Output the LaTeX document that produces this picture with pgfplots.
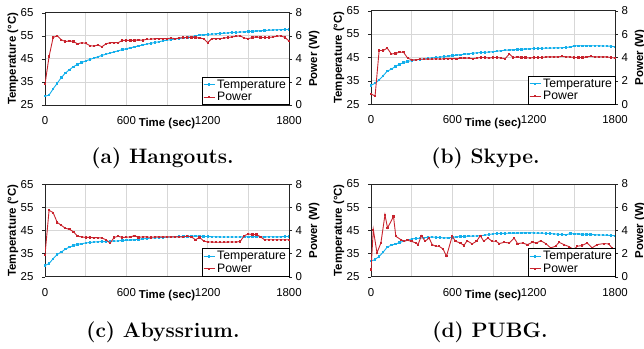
\documentclass[border=0pt]{standalone}
\usepackage{fontspec}
\usepackage{pgfplots}
\pgfplotsset{compat=1.18}
\newfontfamily\arial{Liberation Sans}
\definecolor{tcol}{RGB}{20,175,235}
\definecolor{pcol}{RGB}{200,35,45}
\definecolor{gridc}{RGB}{215,215,215}
\pgfplotsset{
  base/.style={scale only axis, width=244bp, xmin=0, xmax=1800, anchor=south west,
    /pgf/number format/assume math mode=true,
    tick label style={font=\arial\fontsize{11.5}{12}\selectfont},
    label style={font=\arial\bfseries\fontsize{11.5}{12}\selectfont},
    major tick length=3bp, tick align=outside},
  leftax/.style={base, ymin=25, ymax=65, ytick={25,35,...,65},
    xtick={0,300,...,1800}, xticklabels={0,,600,,1200,,1800},
    grid=major, grid style={gridc, line width=0.8pt},
    axis line style={black!85, line width=0.7pt},
    ytick pos=left, xtick pos=bottom, x tick style={draw=none},
    y tick style={black!85},
    xticklabel style={yshift=-5bp},
    yticklabel style={xshift=-5bp},
    xlabel={Time (sec)}, ylabel={Temperature (°C)},
    xlabel style={at={(axis description cs:0.5,-0.205)}, anchor=center},
    ylabel style={at={(axis description cs:-0.132,0.5)}, anchor=center}},
  rightax/.style={base, ymin=0, ymax=8, ytick={0,2,...,8}, axis x line=none, axis y line*=right,
    axis line style={black!85, line width=0.7pt}, y tick style={black!85},
    ylabel={Power (W)},
    ylabel style={at={(axis description cs:1.103,0.5)}, anchor=center},
    legend style={at={(1,0)}, anchor=south east, draw=black, line width=0.5pt, fill=white,
      font=\arial\fontsize{12.3}{12.5}\selectfont, inner sep=0.8pt, row sep=-1.5pt,
      legend cell align=left},
    legend image code/.code={\draw[#1] (0bp,0bp) -- (11bp,0bp); \draw[#1, mark repeat=2, mark phase=2] plot coordinates {(0bp,0bp)(5.5bp,0bp)(11bp,0bp)};}},
  tser/.style={tcol, line width=0.9pt, mark=square*, mark size=0.7pt, mark options={tcol}},
  pser/.style={pcol, line width=0.9pt, mark=square*, mark size=0.6pt, mark options={pcol}},
}
\newcommand{\subcap}[1]{{\bfseries\fontsize{21}{24}\selectfont #1}}
\begin{document}
\begin{tikzpicture}[x=1bp,y=1bp]
\useasboundingbox (0bp,0bp) rectangle (644bp,349bp);
% (a)
\begin{axis}[leftax, at={(45bp,244bp)}, height=92.3bp]
\addplot[tser] coordinates {(0,28.8)(30,29.3)(60,32)(90,34.4)(120,36.9)(150,38.8)(180,40.3)(210,41.6)(240,42.6)(270,43.4)(300,44.1)(330,44.7)(360,45.3)(390,45.9)(420,46.5)(450,47.0)(480,47.5)(510,48.0)(540,48.5)(570,49.0)(600,49.4)(630,49.8)(660,50.2)(690,50.6)(720,51.0)(750,51.4)(780,51.7)(810,52.1)(840,52.4)(870,52.8)(900,53.1)(930,53.3)(960,53.6)(990,53.8)(1020,54.1)(1050,54.3)(1080,54.6)(1110,54.8)(1140,55.3)(1170,55.45)(1200,55.6)(1230,55.7)(1260,55.85)(1290,56.0)(1320,56.1)(1350,56.25)(1380,56.4)(1410,56.5)(1440,56.6)(1470,56.7)(1500,56.8)(1530,56.95)(1560,57.1)(1590,57.2)(1620,57.3)(1650,57.4)(1680,57.5)(1710,57.6)(1740,57.65)(1770,57.7)(1800,57.7)};
\end{axis}
\begin{axis}[rightax, at={(45bp,244bp)}, height=92.3bp]
\addlegendimage{tser}\addlegendentry{Temperature}
\addplot[pser] coordinates {(0,1.8)(30,4.2)(60,5.85)(90,6.0)(120,5.65)(150,5.5)(180,5.55)(210,5.5)(240,5.3)(270,5.4)(300,5.35)(330,5.15)(360,5.1)(390,5.2)(420,5.05)(450,5.3)(480,5.4)(510,5.4)(540,5.4)(570,5.6)(600,5.6)(630,5.6)(660,5.6)(690,5.65)(720,5.6)(750,5.7)(780,5.7)(810,5.75)(840,5.75)(870,5.75)(900,5.75)(930,5.8)(960,5.75)(990,5.8)(1020,5.85)(1050,5.85)(1080,5.85)(1110,5.85)(1140,5.8)(1170,5.75)(1200,5.4)(1230,5.75)(1260,5.75)(1290,5.75)(1320,5.8)(1350,5.85)(1380,5.9)(1410,5.95)(1440,6.0)(1470,5.8)(1500,5.75)(1530,5.85)(1560,5.9)(1590,5.85)(1620,5.85)(1650,5.85)(1680,5.9)(1710,5.95)(1740,6.0)(1770,5.85)(1800,5.55)};
\addlegendentry{Power}
\end{axis}
% (b)
\begin{axis}[leftax, at={(371bp,244.7bp)}, height=93.6bp]
\addplot[tser] coordinates {(0,33.1)(30,34)(60,35.4)(90,37.2)(120,39.2)(150,40)(180,41.2)(210,42.1)(240,42.8)(270,43.3)(300,43.7)(330,44)(360,44.2)(390,44.4)(420,44.6)(450,44.8)(480,45)(510,45.2)(540,45.4)(570,45.6)(600,45.8)(630,46)(660,46.2)(690,46.4)(720,46.6)(750,46.8)(780,47)(810,47.1)(840,47.2)(870,47.3)(900,47.5)(930,47.7)(960,47.9)(990,48.1)(1020,48.2)(1050,48.3)(1080,48.4)(1110,48.5)(1140,48.6)(1170,48.7)(1200,48.8)(1230,48.9)(1260,48.9)(1290,49.0)(1320,49.0)(1350,49.1)(1380,49.1)(1410,49.2)(1440,49.3)(1470,49.5)(1500,50.0)(1530,50.0)(1560,50.0)(1590,50.0)(1620,50.0)(1650,50.0)(1680,50.0)(1710,49.9)(1740,49.9)(1770,49.8)(1800,49.6)};
\end{axis}
\begin{axis}[rightax, at={(371bp,244.7bp)}, height=93.6bp]
\addlegendimage{tser}\addlegendentry{Temperature}
\addplot[pser] coordinates {(0,0.9)(30,0.7)(60,4.6)(90,4.6)(120,4.8)(150,4.3)(180,4.35)(210,4.45)(240,4.45)(270,3.95)(300,3.8)(330,3.8)(360,3.85)(390,3.85)(420,3.85)(450,3.85)(480,3.9)(510,3.85)(540,3.9)(570,3.9)(600,3.9)(630,3.9)(660,3.95)(690,3.95)(720,3.95)(750,3.9)(780,3.95)(810,4.0)(840,4.0)(870,3.95)(900,4.0)(930,4.0)(960,3.95)(990,3.9)(1020,4.3)(1050,4.0)(1080,4.05)(1110,4.0)(1140,4.0)(1170,3.95)(1200,4.0)(1230,4.0)(1260,4.0)(1290,4.05)(1320,4.05)(1350,4.05)(1380,4.05)(1410,4.1)(1440,4.05)(1470,4.05)(1500,4.0)(1530,4.0)(1560,4.0)(1590,4.05)(1620,4.1)(1650,4.05)(1680,4.05)(1710,4.05)(1740,4.05)(1770,4.0)(1800,3.95)};
\addlegendentry{Power}
\end{axis}
% (c)
\begin{axis}[leftax, at={(45bp,72.3bp)}, height=92.4bp]
\addplot[tser] coordinates {(0,29.8)(30,30.7)(60,32.8)(90,34.6)(120,35.7)(150,36.9)(180,37.8)(210,38.5)(240,39)(270,39.3)(300,39.6)(330,39.8)(360,40)(390,40.1)(420,40.2)(450,40.2)(480,40.3)(510,40.4)(540,40.5)(570,40.7)(600,40.8)(630,40.9)(660,41)(690,41.2)(720,41.4)(750,41.5)(780,41.7)(810,41.8)(840,41.9)(870,42)(900,42.1)(930,42.2)(960,42.3)(990,42.4)(1020,42.4)(1050,42.5)(1080,42.5)(1110,42.6)(1140,42.5)(1170,42.4)(1200,42.4)(1230,42.3)(1260,42.3)(1290,42.2)(1320,42.2)(1350,42.2)(1380,42.2)(1410,42.2)(1440,42.2)(1470,42.3)(1500,42.3)(1530,42.4)(1560,42.3)(1590,42.3)(1620,42.2)(1650,42.3)(1680,42.3)(1710,42.2)(1740,42.3)(1770,42.4)(1800,42.4)};
\end{axis}
\begin{axis}[rightax, at={(45bp,72.3bp)}, height=92.4bp]
\addlegendimage{tser}\addlegendentry{Temperature}
\addplot[pser] coordinates {(0,1.9)(30,5.75)(60,5.55)(90,4.7)(120,4.45)(150,4.2)(180,4.1)(210,3.9)(240,3.5)(270,3.45)(300,3.4)(330,3.4)(360,3.38)(390,3.38)(420,3.35)(450,3.2)(480,2.9)(510,3.4)(540,3.5)(570,3.4)(600,3.42)(630,3.45)(660,3.55)(690,3.4)(720,3.45)(750,3.45)(780,3.4)(810,3.45)(840,3.45)(870,3.45)(900,3.45)(930,3.45)(960,3.45)(990,3.45)(1020,3.45)(1050,3.5)(1080,3.45)(1110,3.2)(1140,3.4)(1170,3.1)(1200,3.0)(1230,3.0)(1260,2.98)(1290,2.98)(1320,2.98)(1350,3.0)(1380,3.0)(1410,3.0)(1440,3.05)(1470,3.55)(1500,3.7)(1530,3.65)(1560,3.65)(1590,3.45)(1620,3.2)(1650,3.2)(1680,3.2)(1710,3.2)(1740,3.2)(1770,3.2)(1800,3.2)};
\addlegendentry{Power}
\end{axis}
% (d)
\begin{axis}[leftax, at={(371bp,72.3bp)}, height=92.7bp]
\addplot[tser] coordinates {(0,31.7)(30,32.4)(60,33.8)(90,35.6)(120,37.8)(150,38.6)(180,39.1)(210,39.7)(240,40.3)(270,40.8)(300,41.3)(330,41.5)(360,41.6)(390,41.8)(420,42.0)(450,42.1)(480,42.0)(510,41.9)(540,41.7)(570,41.8)(600,42.0)(630,42.2)(660,42.3)(690,42.4)(720,42.5)(750,42.5)(780,42.6)(810,42.7)(840,42.9)(870,43.2)(900,43.5)(930,43.6)(960,43.7)(990,43.7)(1020,43.8)(1050,43.8)(1080,43.8)(1110,43.9)(1140,43.9)(1170,44.0)(1200,43.9)(1230,43.8)(1260,43.8)(1290,43.7)(1320,43.6)(1350,43.5)(1380,43.3)(1410,43.2)(1440,43.1)(1470,43.6)(1500,43.5)(1530,43.4)(1560,43.3)(1590,43.3)(1620,43.2)(1650,43.1)(1680,43.0)(1710,43.0)(1740,42.9)(1770,42.8)(1800,42.7)};
\end{axis}
\begin{axis}[rightax, at={(371bp,72.3bp)}, height=92.7bp]
\addlegendimage{tser}\addlegendentry{Temperature}
\addplot[pser] coordinates {(0,0.63)(17,4.06)(44,2.06)(73,2.91)(103,5.34)(122,4.2)(166,5.2)(183,3.49)(220,3.2)(245,3.06)(269,3.14)(298,3.06)(330,2.91)(347,2.77)(372,3.54)(399,3.06)(428,3.34)(452,2.77)(477,2.63)(501,2.63)(531,2.4)(557,1.77)(599,3.49)(623,3.06)(660,2.91)(685,2.69)(709,3.11)(746,2.83)(778,3.06)(807,3.54)(831,3.06)(863,3.34)(892,3.06)(922,3.06)(946,2.86)(983,2.97)(1020,2.91)(1056,3.34)(1081,2.86)(1118,2.91)(1154,2.77)(1191,2.97)(1220,2.9)(1252,3.11)(1289,2.86)(1325,2.49)(1362,2.63)(1387,2.97)(1423,2.77)(1460,2.6)(1497,2.34)(1521,2.63)(1558,2.69)(1594,2.91)(1631,2.49)(1668,2.77)(1717,2.86)(1753,2.83)(1778,2.49)(1800,2.2)};
\addlegendentry{Power}
\end{axis}
% captions
\node[anchor=base] at (162.5bp,185bp) {\subcap{(a) Hangouts.}};
\node[anchor=base] at (485.5bp,185bp) {\subcap{(b) Skype.}};
\node[anchor=base] at (163bp,12bp) {\subcap{(c) Abyssrium.}};
\node[anchor=base] at (490bp,12bp) {\subcap{(d) PUBG.}};
\end{tikzpicture}
\end{document}
